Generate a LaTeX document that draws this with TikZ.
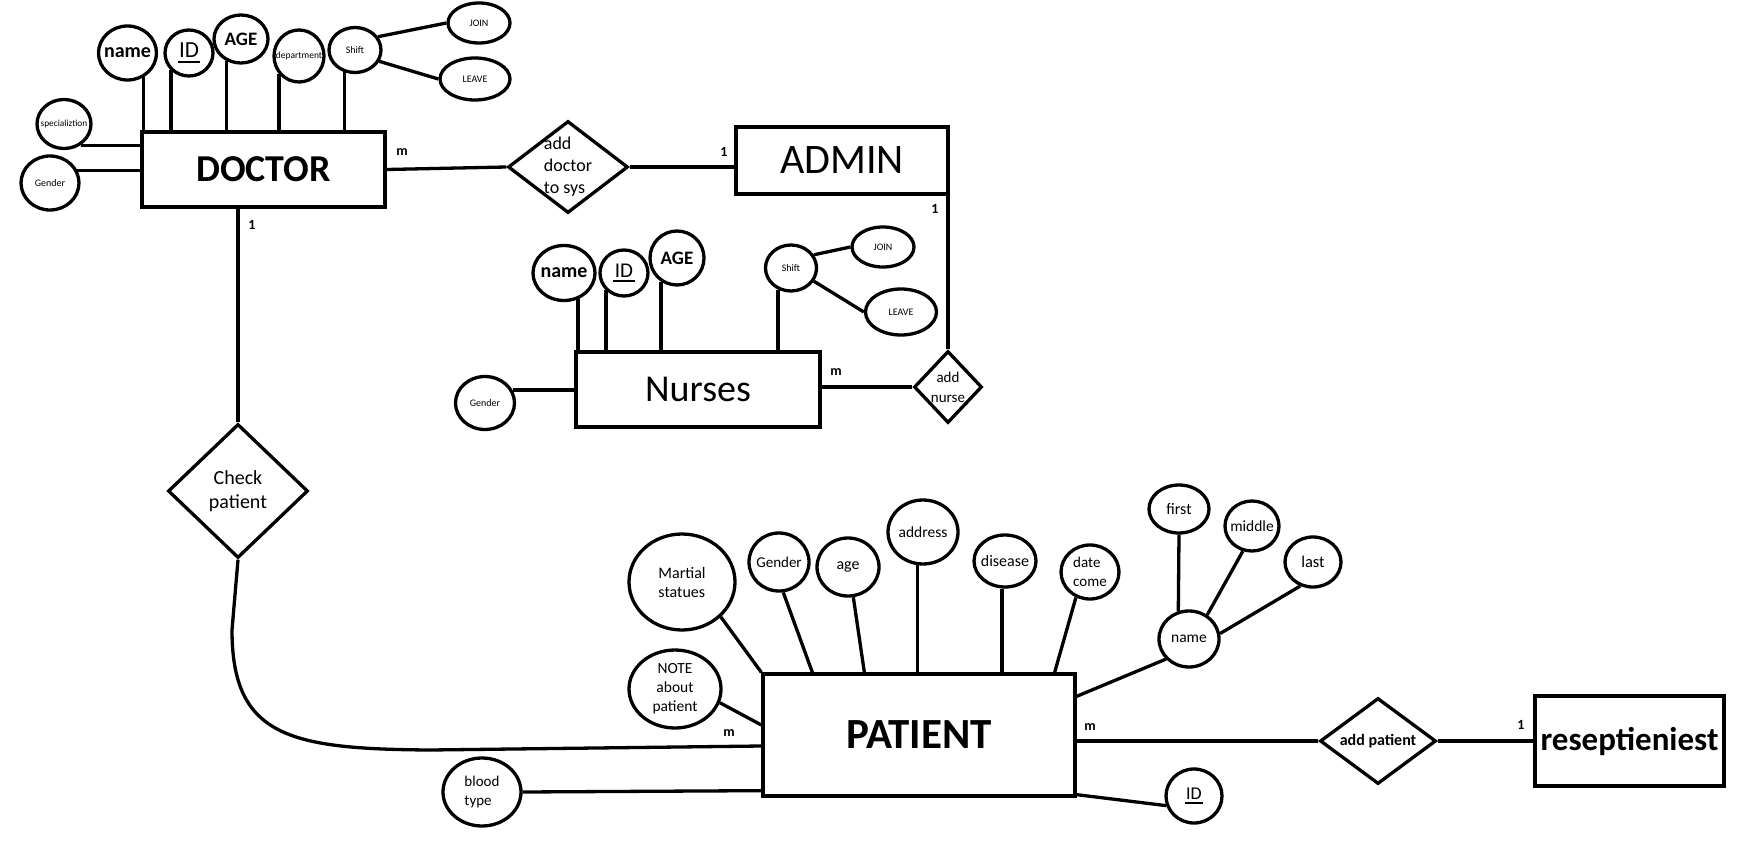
\documentclass[tikz,border=0pt]{standalone}
\usepackage{fontspec}
\setmainfont{Carlito}
\usetikzlibrary{shapes.geometric}

\newcommand{\fsz}[2]{\fontsize{#1}{#2}\selectfont}
\newcommand{\pkey}[1]{\vtop{\hbox{\kern1.5pt#1\kern1.5pt}\kern3pt\hrule height2.4pt}}

\tikzset{
  entity/.style={draw, rectangle, inner sep=0pt},
  attr/.style={draw, ellipse, inner sep=-8pt, align=center},
  rel/.style={draw, diamond, inner sep=-8pt, align=center},
  card/.style={font=\bfseries\fsz{14}{16}},
}

\begin{document}
\begin{tikzpicture}[x=1pt, y=-1pt, line width=3.3pt]
\useasboundingbox (0,0) rectangle (1750,845);

\node[entity, minimum width=243, minimum height=75, font=\bfseries\fsz{38}{44}] (doctor) at (263.5,169.5) {DOCTOR};
\node[entity, minimum width=212, minimum height=67, font=\fsz{42}{48}] (admin) at (842,160.5) {ADMIN};
\node[entity, minimum width=244, minimum height=75, font=\fsz{38}{44}] (nurses) at (698,389.5) {Nurses};
\node[entity, minimum width=312, minimum height=122, font=\bfseries\fsz{43}{50}] (patient) at (919,735) {PATIENT};
\node[entity, minimum width=189, minimum height=90, font=\bfseries\fsz{33}{38}] (resep) at (1629.5,741) {reseptieniest};

\node[rel, minimum width=120, minimum height=92, font=\fsz{18}{22}, align=left] (adddoc) at (568,167) {add\\doctor\\to sys};
\node[rel, minimum width=68, minimum height=72, font=\fsz{15}{20}] (addnurse) at (948,387) {add\\nurse};
\node[rel, minimum width=140, minimum height=134, font=\fsz{20}{24}] (check) at (238,491) {Check\\patient};
\node[rel, minimum width=116, minimum height=86, font=\bfseries\fsz{16}{18}] (addpat) at (1378,741) {add patient};

% doctor attributes
\node[attr, minimum width=58, minimum height=54, font=\bfseries\fsz{20}{24}] (dname) at (127.5,53) {name};
\node[attr, minimum width=48, minimum height=46, font=\fsz{23}{26}] (did) at (189,53) {\pkey{ID}};
\node[attr, minimum width=54, minimum height=48, font=\bfseries\fsz{19}{22}] (dage) at (241,39) {AGE};
\node[attr, minimum width=50, minimum height=52, font=\fsz{9.5}{12}] (ddept) at (299,56) {department};
\node[attr, minimum width=52, minimum height=45, font=\fsz{10}{12}] (dshift) at (355,50) {Shift};
\node[attr, minimum width=62, minimum height=40, font=\fsz{10}{12}] (djoin) at (479,23) {JOIN};
\node[attr, minimum width=70, minimum height=42, font=\fsz{10}{12}] (dleave) at (475,79) {LEAVE};
\node[attr, minimum width=54, minimum height=49, font=\fsz{9.3}{12}] (dspec) at (64,124) {specializtion};
\node[attr, minimum width=58, minimum height=54, font=\fsz{10}{12}] (dgender) at (50,183) {Gender};

\draw (dname.-56) -- (dname.-56 |- doctor.north);
\draw (did.-136) -- (did.-136 |- doctor.north);
\draw (dage.-124) -- (dage.-124 |- doctor.north);
\draw (ddept.-138) -- (ddept.-138 |- doctor.north);
\draw (dshift.-116) -- (dshift.-116 |- doctor.north);
\draw (dshift.30) -- (djoin.west);
\draw (dshift.-25) -- (dleave.west);
\draw (dspec.-52) -- (dspec.-52 -| doctor.west);
\draw (dgender.25) -- (dgender.25 -| doctor.west);

% nurse attributes
\node[attr, minimum width=62, minimum height=55, font=\bfseries\fsz{20}{24}] (nname) at (564,273) {name};
\node[attr, minimum width=48, minimum height=46, font=\fsz{21}{24}] (nid) at (624,273) {\pkey{ID}};
\node[attr, minimum width=54, minimum height=54, font=\bfseries\fsz{19}{22}] (nage) at (677,258) {AGE};
\node[attr, minimum width=51, minimum height=46, font=\fsz{10}{12}] (nshift) at (791,268) {Shift};
\node[attr, minimum width=62, minimum height=40, font=\fsz{10}{12}] (njoin) at (883,247) {JOIN};
\node[attr, minimum width=71, minimum height=46, font=\fsz{10}{12}] (nleave) at (901,312) {LEAVE};
\node[attr, minimum width=59, minimum height=53, font=\fsz{10}{12}] (ngender) at (485,403) {Gender};

\draw (nname.-62) -- (nname.-62 |- nurses.north);
\draw (nid.-136) -- (nid.-136 |- nurses.north);
\draw (nage.-124) -- (nage.-124 |- nurses.north);
\draw (nshift.-121) -- (nshift.-121 |- nurses.north);
\draw (nshift.30) -- (njoin.west);
\draw (nshift.-30) -- (nleave.west);
\draw (ngender.25) -- (ngender.25 -| nurses.west);

% patient attributes
\node[attr, minimum width=106, minimum height=96, font=\fsz{16}{19}, align=left] (pmart) at (682,582) {Martial\\statues};
\node[attr, minimum width=92, minimum height=78, font=\fsz{15.5}{19}] (pnote) at (675,689) {NOTE\\about\\patient};
\node[attr, minimum width=78, minimum height=68, font=\fsz{15}{19}, align=left] (pblood) at (482,792) {blood\\type};
\node[attr, minimum width=60, minimum height=58, font=\fsz{15}{18}] (pgender) at (779,562) {Gender};
\node[attr, minimum width=62, minimum height=58, font=\fsz{16}{19}] (page) at (848,567) {age};
\node[attr, minimum width=70, minimum height=64, font=\fsz{15.5}{19}] (paddr) at (923,532) {address};
\node[attr, minimum width=62, minimum height=52, font=\fsz{16}{19}] (pdis) at (1005,561) {disease};
\node[attr, minimum width=58, minimum height=54, font=\fsz{15}{19}, align=left] (pdate) at (1090,572) {date\\come};
\node[attr, minimum width=60, minimum height=56, font=\fsz{15.5}{19}] (pname) at (1189,639) {name};
\node[attr, minimum width=60, minimum height=48, font=\fsz{16}{19}] (pfirst) at (1179,509) {first};
\node[attr, minimum width=54, minimum height=50, font=\fsz{15.5}{19}] (pmiddle) at (1252,526) {middle};
\node[attr, minimum width=56, minimum height=50, font=\fsz{16.5}{19}] (plast) at (1313,562) {last};
\node[attr, minimum width=56, minimum height=54, font=\fsz{18}{21}] (pid) at (1194,796) {\pkey{ID}};

\draw (pmart.-42) -- (patient.north west);
\draw (pgender.-82) -- ([xshift=51pt]patient.north west);
\draw (page.-80) -- ([xshift=103pt]patient.north west);
\draw (paddr.-99) -- (paddr.-99 |- patient.north);
\draw (pdis.-96) -- (pdis.-96 |- patient.north);
\draw (pdate.-119) -- ([xshift=-22pt]patient.north east);
\draw (pnote.-17) -- ([yshift=10pt]patient.west);
\draw (pblood.east) -- ([yshift=7pt]patient.south west);
\draw (pname.-139) -- ([yshift=-24pt]patient.north east);
\draw (pid.199) -- ([yshift=3pt]patient.south east);
\draw (pfirst.south) -- (pname.111);
\draw (pmiddle.-110) -- (pname.53);
\draw (plast.-118) -- (pname.10);

% relationships
\draw (doctor.east) -- (adddoc.west);
\draw (adddoc.east) -- (adddoc.east -| admin.west);
\draw (addnurse.north |- admin.south) -- (addnurse.north);
\draw (addnurse.west) -- (addnurse.west -| nurses.east);
\draw (check.north) -- (check.north |- doctor.south);
\draw (check.south) -- (232,630) .. controls (232,737) and (290,749) .. (430,750) -- ([yshift=-11pt]patient.west);
\draw (addpat.west -| patient.east) -- (addpat.west);
\draw (addpat.east) -- (resep.west);

\node[card] (cdoc) at (402,152) {m};
\node[card] (cadm) at (724,152) {1};
\node[card] (cadm2) at (935,209) {1};
\node[card] (cnur) at (836,372) {m};
\node[card] (cdoc2) at (252,225) {1};
\node[card] (cpat) at (729,733) {m};
\node[card] (cpat2) at (1090,727) {m};
\node[card] (cres) at (1521,725) {1};

\end{tikzpicture}
\end{document}
